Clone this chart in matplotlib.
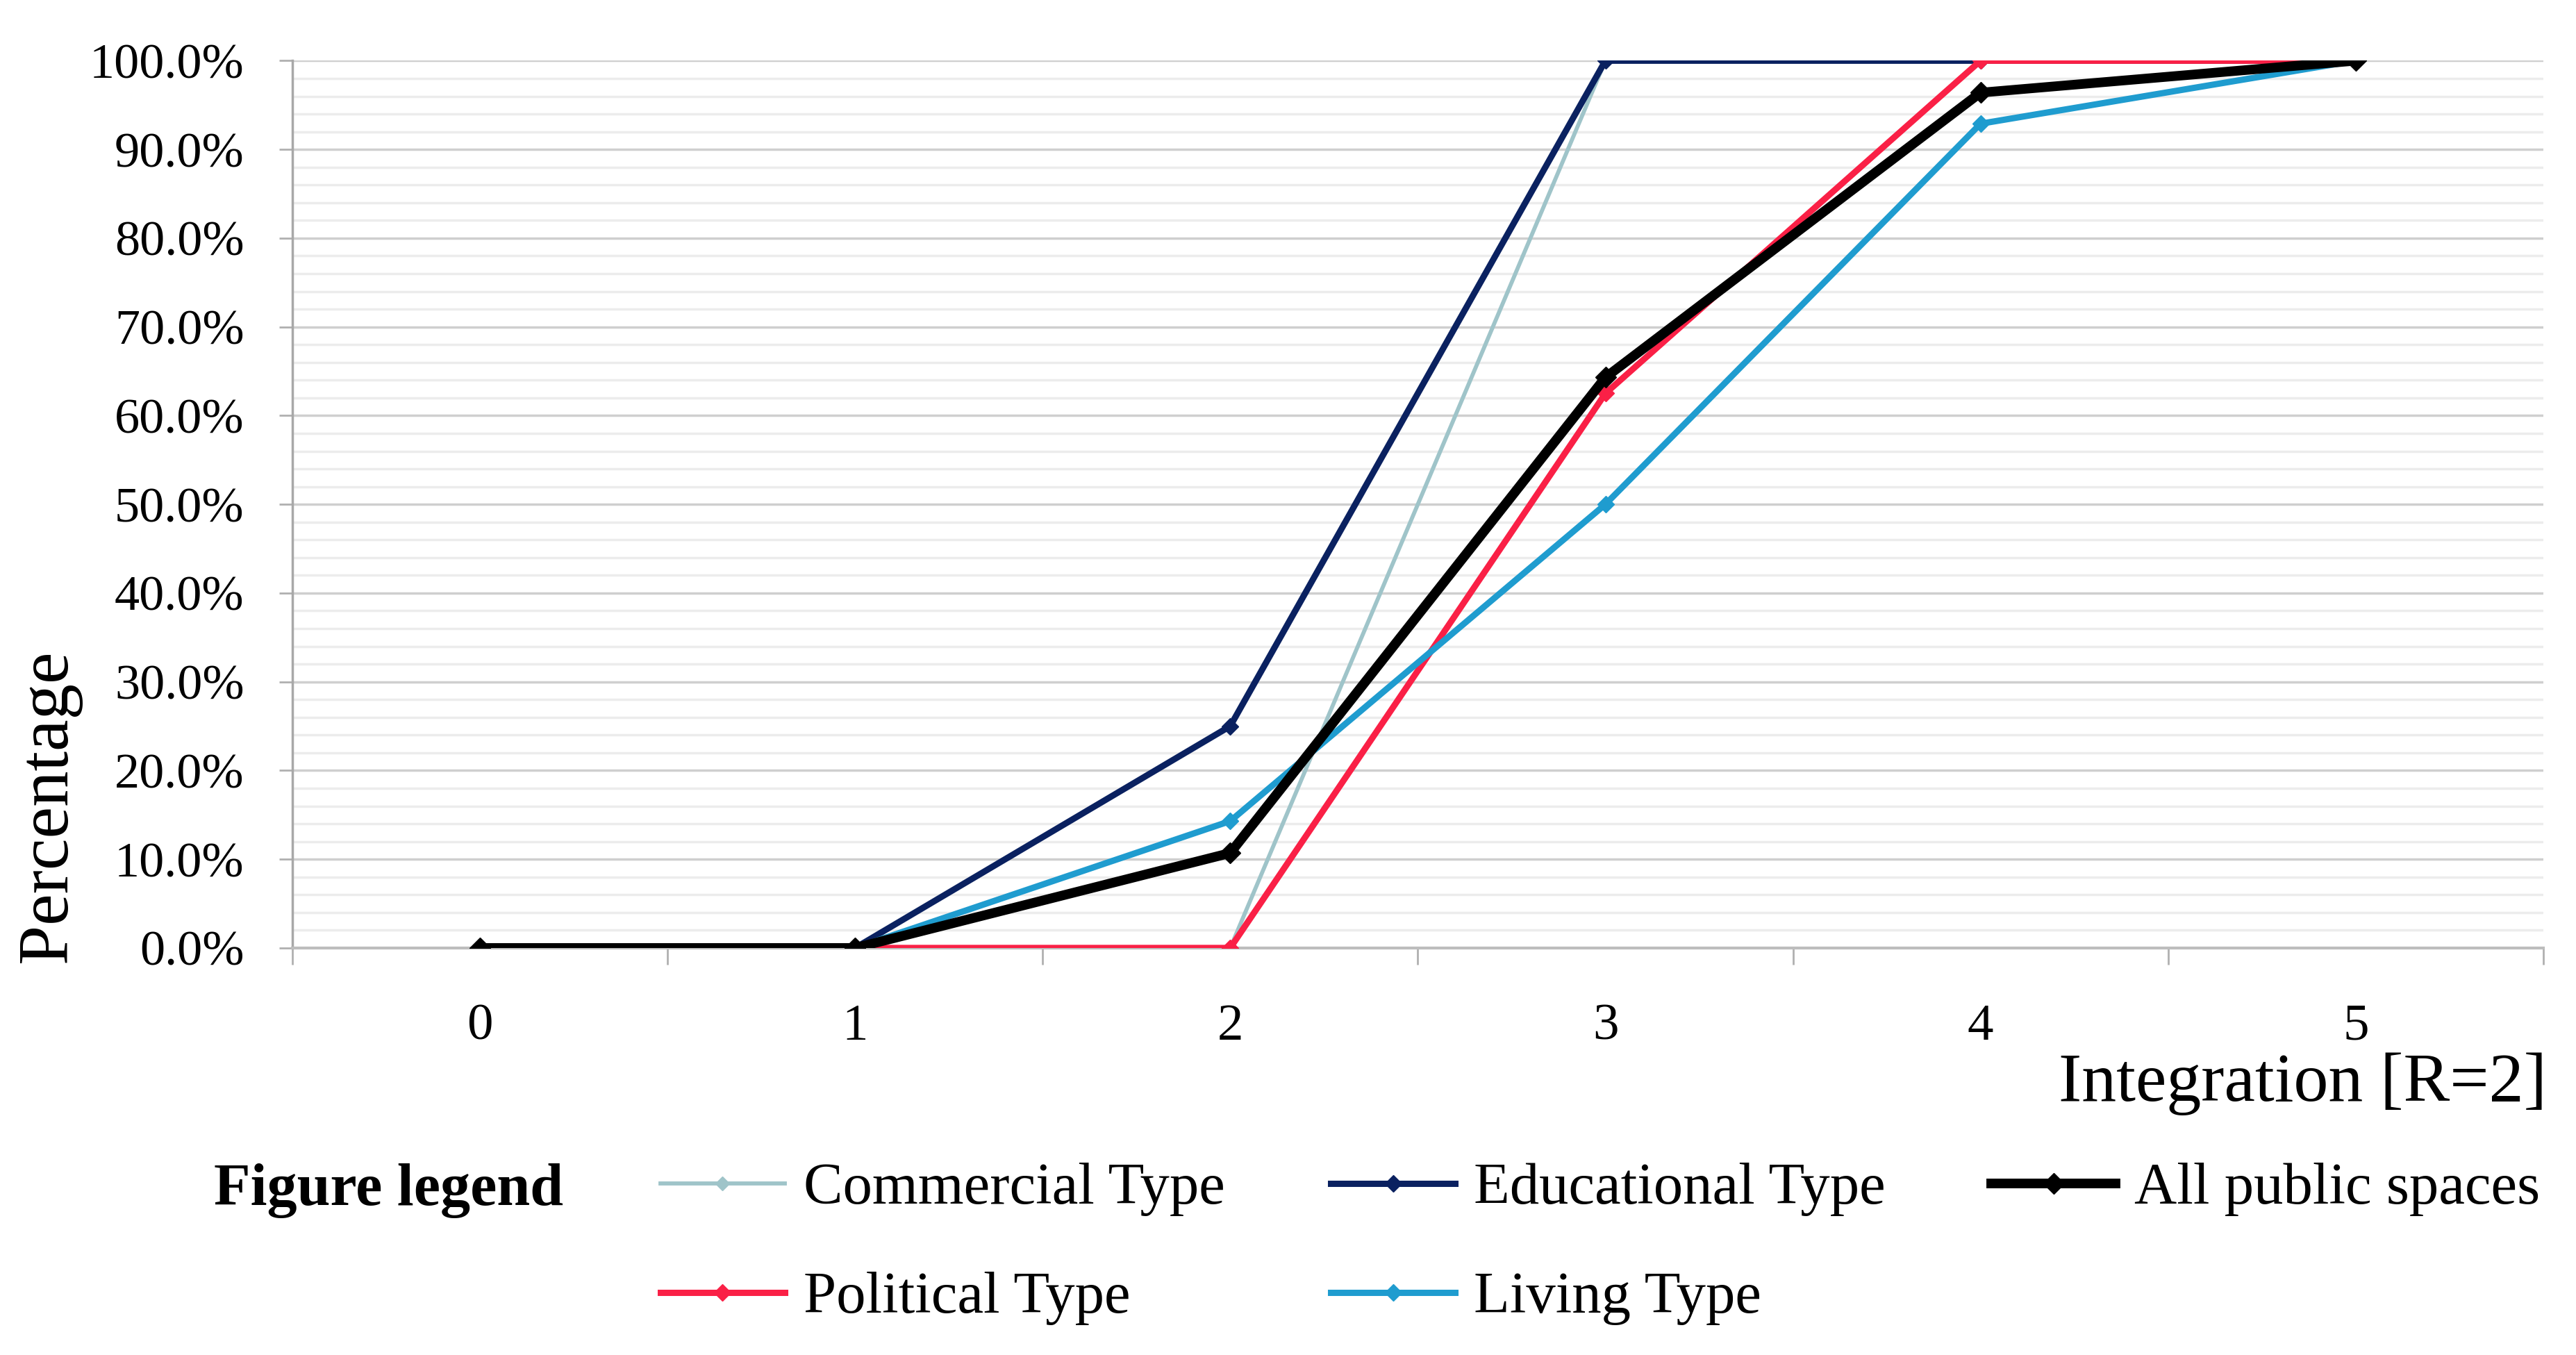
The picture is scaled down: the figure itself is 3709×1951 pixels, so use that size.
import numpy as np
import matplotlib.pyplot as plt
from matplotlib.ticker import MultipleLocator, FixedLocator

plt.rcParams['font.family'] = ['Liberation Serif', 'DejaVu Serif']

# data (cumulative percentage by integration value)
integration = [0, 1, 2, 3, 4, 5]
commercial = [0.0, 0.0, 0.0, 100.0, 100.0, 100.0]
educational = [0.0, 0.0, 25.0, 100.0, 100.0, 100.0]
political = [0.0, 0.0, 0.0, 62.5, 100.0, 100.0]
living = [0.0, 0.0, 14.3, 50.0, 92.9, 100.0]
all_public = [0.0, 0.0, 10.7, 64.3, 96.4, 100.0]

fig = plt.figure(figsize=(37.09, 19.51), dpi=100)
ax = fig.add_axes([0.1135, 0.3004, 0.8738, 0.6548])

h_com, = ax.plot(integration, commercial, color='#9fc4c9', lw=4.2, marker='D', ms=10, label='Commercial Type', zorder=3)
h_edu, = ax.plot(integration, educational, color='#0a2160', lw=6.5, marker='D', ms=12, label='Educational Type', zorder=4)
h_pol, = ax.plot(integration, political, color='#fa2046', lw=6.5, marker='D', ms=12, label='Political Type', zorder=5)
h_liv, = ax.plot(integration, living, color='#1f9ccf', lw=6.5, marker='D', ms=12, label='Living Type', zorder=6)
h_all, = ax.plot(integration, all_public, color='black', lw=10, marker='D', ms=15, label='All public spaces', zorder=7)

ax.set_xlim(-0.5, 5.5)
ax.set_ylim(0, 100)

# y axis: major every 10%, minor every 2%
ax.yaxis.set_major_locator(MultipleLocator(10))
ax.yaxis.set_minor_locator(MultipleLocator(2))
ax.set_yticklabels([f'{v:.1f}%' for v in ax.get_yticks()])
ax.grid(which='major', axis='y', color='#cfcfcf', lw=2.5, zorder=0)
ax.grid(which='minor', axis='y', color='#ececec', lw=2.5, zorder=0)
ax.tick_params(axis='y', which='major', length=14, width=2, color='#b0b0b0', labelsize=52, pad=36)
ax.tick_params(axis='y', which='minor', length=0)

# x axis: labels on categories, tick marks between them
ax.set_xticks(integration)
ax.xaxis.set_minor_locator(FixedLocator(np.arange(-0.5, 6.0, 1.0)))
ax.tick_params(axis='x', which='major', length=0, labelsize=54, pad=58)
ax.tick_params(axis='x', which='minor', length=17, width=2, color='#b0b0b0')

for s in ['top', 'right']:
    ax.spines[s].set_visible(False)
ax.spines['left'].set_color('#a8a8a8')
ax.spines['left'].set_linewidth(2.5)
ax.spines['bottom'].set_color('#bdbdbd')
ax.spines['bottom'].set_linewidth(3)

fig.text(0.019, 0.405, 'Percentage', rotation=90, fontsize=74, ha='center', va='center')
fig.text(0.9887, 0.200, 'Integration [R=2]', fontsize=72, ha='right', va='center')
fig.text(0.083, 0.121, 'Figure legend', fontsize=62, fontweight='bold', ha='left', va='center')

fig.legend([h_com, h_pol, h_edu, h_liv, h_all],
           ['Commercial Type', 'Political Type', 'Educational Type', 'Living Type', 'All public spaces'],
           ncol=3, loc='upper left', bbox_to_anchor=(0.2564, 0.142), frameon=False,
           fontsize=61, handlelength=2.11, handletextpad=0.32, columnspacing=1.8,
           labelspacing=0.94, borderpad=0, borderaxespad=0)

fig.savefig('out.png', dpi=100)
plt.close(fig)
